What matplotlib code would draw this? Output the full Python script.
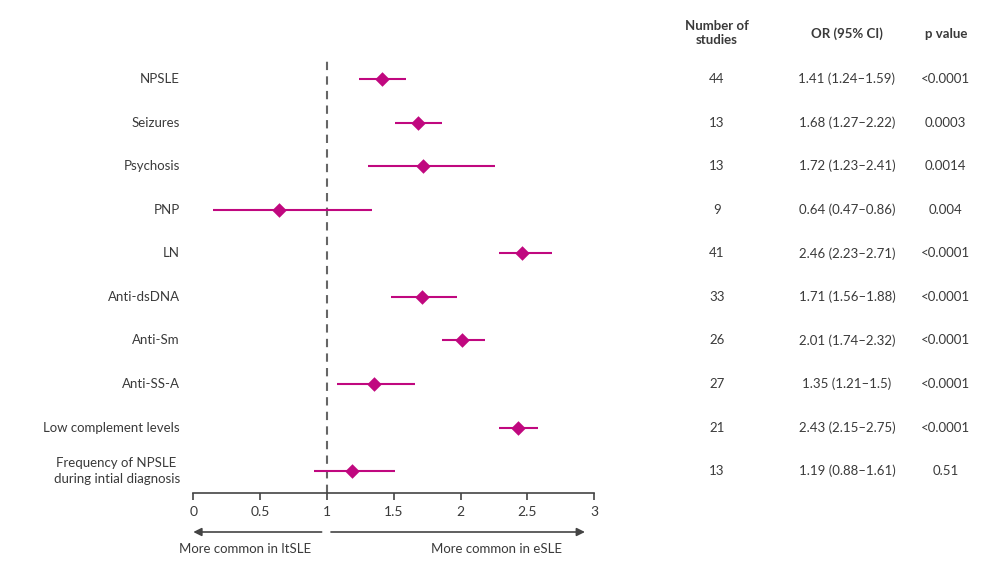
import matplotlib
matplotlib.use("Agg")
import matplotlib.pyplot as plt
from matplotlib.transforms import blended_transform_factory

plt.rcParams['font.family'] = ['Lato', 'DejaVu Sans']

# data
labels = ["NPSLE", "Seizures", "Psychosis", "PNP", "LN", "Anti-dsDNA",
          "Anti-Sm", "Anti-SS-A", "Low complement levels",
          "Frequency of NPSLE \nduring intial diagnosis"]
odds = [1.41, 1.68, 1.72, 0.64, 2.46, 1.71, 2.01, 1.35, 2.43, 1.19]
ci_low = [1.24, 1.51, 1.31, 0.145, 2.29, 1.48, 1.86, 1.075, 2.29, 0.905]
ci_high = [1.59, 1.86, 2.26, 1.335, 2.68, 1.97, 2.18, 1.66, 2.58, 1.51]
n_studies = ["44", "13", "13", "9", "41", "33", "26", "27", "21", "13"]
or_text = ["1.41 (1.24\u20131.59)", "1.68 (1.27\u20132.22)", "1.72 (1.23\u20132.41)",
           "0.64 (0.47\u20130.86)", "2.46 (2.23\u20132.71)", "1.71 (1.56\u20131.88)",
           "2.01 (1.74\u20132.32)", "1.35 (1.21\u20131.5)", "2.43 (2.15\u20132.75)",
           "1.19 (0.88\u20131.61)"]
p_text = ["<0.0001", "0.0003", "0.0014", "0.004", "<0.0001", "<0.0001",
          "<0.0001", "<0.0001", "<0.0001", "0.51"]
xticks = [0, 0.5, 1, 1.5, 2, 2.5, 3]
xticklabels = ["0", "0.5", "1", "1.5", "2", "2.5", "3"]

pink = "#C0087F"
txt = "#3a3a3a"
fs = 9.5

fig = plt.figure(figsize=(10, 5.66), dpi=100)
ax = fig.add_axes([0.1933, 0.1284, 0.401, 0.7636])

rows = list(range(len(labels)))
for i in rows:
    ax.plot([ci_low[i], ci_high[i]], [i, i], color=pink, lw=1.5, solid_capstyle='butt')
ax.scatter(odds, rows, marker='D', s=55, color=pink, zorder=3, linewidths=0)

ax.axvline(1, color="#666666", ls=(0, (4, 3)), lw=1.5, zorder=1)

ax.set_xlim(0, 3)
ax.set_ylim(9.51, -0.41)
ax.set_xticks(xticks)
ax.set_xticklabels(xticklabels, fontsize=10, color=txt)
ax.set_yticks([])
for s in ["top", "right", "left"]:
    ax.spines[s].set_visible(False)
ax.spines["bottom"].set_color("#444444")
ax.spines["bottom"].set_linewidth(1.2)
ax.tick_params(axis='x', length=5, width=1.2, color="#444444", pad=4)

trans = blended_transform_factory(fig.transFigure, ax.transData)
for i in rows:
    ax.text(0.180, i, labels[i], transform=trans, ha='right', va='center',
            fontsize=fs, color=txt, multialignment='right', linespacing=1.4)
    ax.text(0.717, i, n_studies[i], transform=trans, ha='center', va='center',
            fontsize=fs, color=txt)
    ax.text(0.847, i, or_text[i], transform=trans, ha='center', va='center',
            fontsize=fs, color=txt)
    ax.text(0.9457, i, p_text[i], transform=trans, ha='center', va='center',
            fontsize=fs, color=txt)

fig.text(0.717, 1 - 33 / 566, "Number of\nstudies", ha='center', va='center',
         fontsize=fs, fontweight='bold', color=txt, linespacing=1.3)
fig.text(0.847, 1 - 34 / 566, "OR (95% CI)", ha='center', va='center',
         fontsize=fs, fontweight='bold', color=txt)
fig.text(0.9457, 1 - 34 / 566, "p value", ha='center', va='center',
         fontsize=fs, fontweight='bold', color=txt)

# direction arrows under the axis
ytr = blended_transform_factory(ax.transData, fig.transFigure)
ya = 1 - 532 / 566
ax.annotate("", xy=(0, ya), xytext=(0.96, ya), xycoords=ytr, textcoords=ytr,
            arrowprops=dict(arrowstyle='-|>', color="#444444", lw=1.2,
                            mutation_scale=12, shrinkA=0, shrinkB=0),
            annotation_clip=False)
ax.annotate("", xy=(2.93, ya), xytext=(1.03, ya), xycoords=ytr, textcoords=ytr,
            arrowprops=dict(arrowstyle='-|>', color="#444444", lw=1.2,
                            mutation_scale=12, shrinkA=0, shrinkB=0),
            annotation_clip=False)
ax.text(0.39, 1 - 549 / 566, "More common in ltSLE", transform=ytr, ha='center',
        va='center', fontsize=fs, color=txt)
ax.text(2.27, 1 - 549 / 566, "More common in eSLE", transform=ytr, ha='center',
        va='center', fontsize=fs, color=txt)

fig.savefig("out.png", dpi=100, facecolor="white")
